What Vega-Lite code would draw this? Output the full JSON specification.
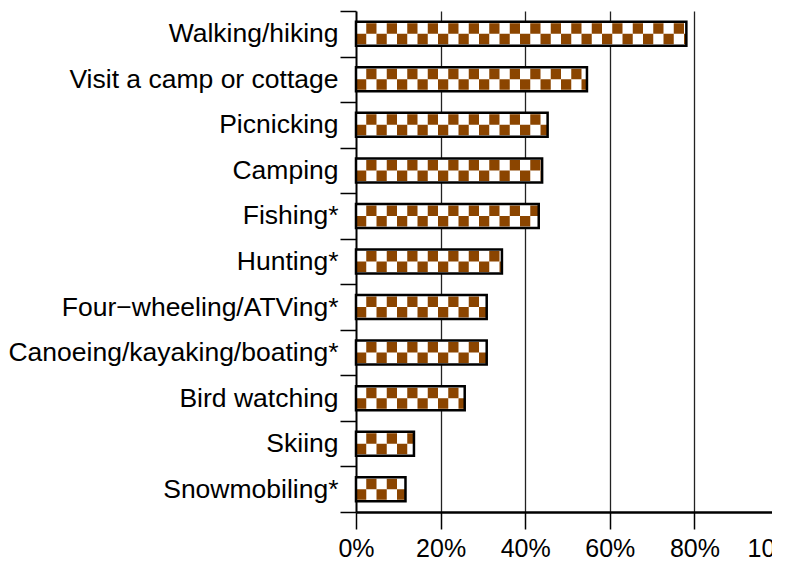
{
  "$schema": "https://vega.github.io/schema/vega-lite/v6.json",
  "width": 416,
  "height": 501,
  "autosize": {"type": "none"},
  "padding": {"left": 356, "top": 11, "right": 0, "bottom": 53},
  "background": "white",
  "config": {"view": {"stroke": null}, "font": "Liberation Sans"},
  "data": {
    "values": [
      {"activity": "Walking/hiking", "pct": 0.781},
      {"activity": "Visit a camp or cottage", "pct": 0.546},
      {"activity": "Picnicking", "pct": 0.453},
      {"activity": "Camping", "pct": 0.440},
      {"activity": "Fishing*", "pct": 0.432},
      {"activity": "Hunting*", "pct": 0.345},
      {"activity": "Four−wheeling/ATVing*", "pct": 0.309},
      {"activity": "Canoeing/kayaking/boating*", "pct": 0.309},
      {"activity": "Bird watching", "pct": 0.257},
      {"activity": "Skiing", "pct": 0.137},
      {"activity": "Snowmobiling*", "pct": 0.117}
    ]
  },
  "transform": [
    {"stack": "pct", "groupby": ["activity"], "as": ["pct_start", "pct_end"]}
  ],
  "encoding": {
    "y": {
      "field": "activity",
      "type": "nominal",
      "sort": null,
      "scale": {"paddingInner": 0, "paddingOuter": 0},
      "axis": {
        "title": null,
        "domainColor": "black",
        "domainWidth": 2,
        "tickColor": "black",
        "tickWidth": 1.5,
        "tickSize": 16,
        "tickBand": "extent",
        "labelFontSize": 26.5,
        "labelFont": "Liberation Sans",
        "labelColor": "black",
        "labelPadding": 2,
        "labelLimit": 400,
        "grid": false
      }
    },
    "x": {
      "field": "pct_start",
      "type": "quantitative",
      "scale": {"domain": [0, 1], "nice": false, "range": [0, 423]},
      "axis": {
        "title": null,
        "values": [0, 0.2, 0.4, 0.6, 0.8, 1],
        "format": ".0%",
        "grid": true,
        "gridColor": "#222222",
        "gridWidth": 1.3,
        "gridOpacity": {"condition": {"test": "datum.value <= 0 || datum.value >= 1", "value": 0}, "value": 1},
        "tickOpacity": {"condition": {"test": "datum.value >= 1", "value": 0}, "value": 1},
        "domainColor": "black",
        "domainWidth": 2.5,
        "tickColor": "black",
        "tickWidth": 1.5,
        "tickSize": 17,
        "labelFontSize": 25,
        "labelFont": "Liberation Sans",
        "labelColor": "black",
        "labelPadding": 7,
        "labelFlush": false,
        "labelOverlap": false
      }
    },
    "x2": {"field": "pct_end"}
  },
  "layer": [
    {
      "mark": {"type": "bar", "fill": "white", "size": 24}
    },
    {
      "mark": {"type": "rule", "stroke": "#8B4500", "strokeWidth": 10.5, "strokeDash": [10.25, 10.25], "strokeDashOffset": 10.25, "strokeCap": "butt", "yOffset": -5.25}
    },
    {
      "mark": {"type": "rule", "stroke": "#8B4500", "strokeWidth": 10.5, "strokeDash": [10.25, 10.25], "strokeDashOffset": 0, "strokeCap": "butt", "yOffset": 5.25}
    },
    {
      "mark": {"type": "bar", "fill": "transparent", "stroke": "black", "strokeWidth": 2.5, "size": 24}
    }
  ]
}
